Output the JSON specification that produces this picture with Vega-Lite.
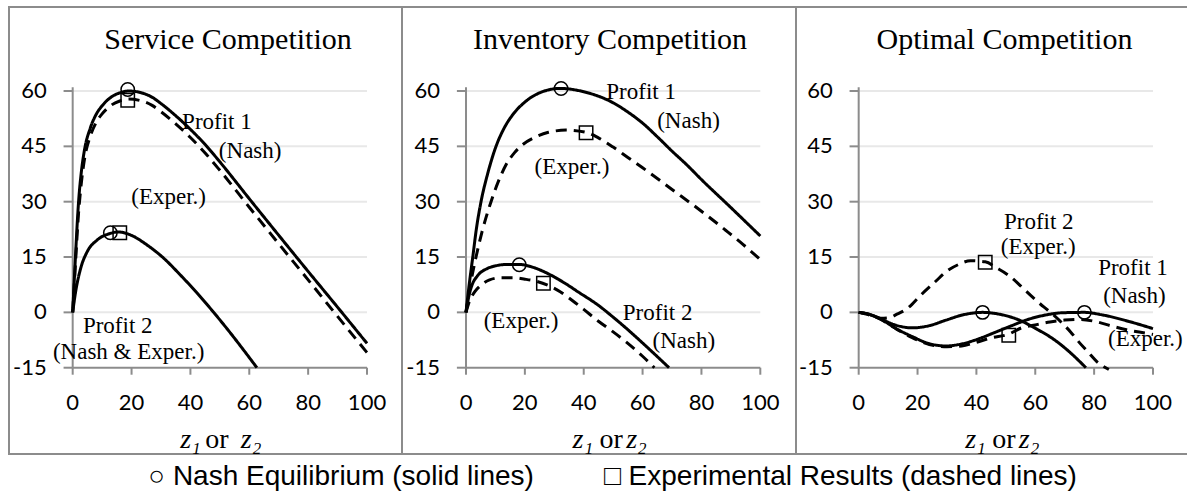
{
  "$schema": "https://vega.github.io/schema/vega-lite/v6.json",
  "background": "white",
  "padding": {"left": 8, "top": 6, "right": 0, "bottom": 0},
  "bounds": "flush",
  "spacing": 0,
  "title": {
    "text": "○ Nash Equilibrium (solid lines)\u00a0\u00a0\u00a0\u00a0\u00a0\u00a0\u00a0\u00a0\u00a0□ Experimental Results (dashed lines)",
    "orient": "bottom", "anchor": "middle", "frame": "bounds", "dx": 14, "offset": 8, "baseline": "top",
    "font": "Liberation Sans", "fontSize": 28, "fontWeight": "normal", "color": "black"
  },
  "datasets": {
    "one": [{}],
    "grid": [{"v": 0}, {"v": 15}, {"v": 30}, {"v": 45}, {"v": 60}],
    "yticks": [{"v": -15}, {"v": 0}, {"v": 15}, {"v": 30}, {"v": 45}, {"v": 60}],
    "xticks": [{"v": 0}, {"v": 20}, {"v": 40}, {"v": 60}, {"v": 80}, {"v": 100}],
    "curves": [
      {"p":"S","s":"P1N","t":"Nash","x":0,"y":0},{"p":"S","s":"P1N","t":"Nash","x":0.5,"y":8},{"p":"S","s":"P1N","t":"Nash","x":1,"y":16},{"p":"S","s":"P1N","t":"Nash","x":2,"y":30},{"p":"S","s":"P1N","t":"Nash","x":3,"y":38.5},{"p":"S","s":"P1N","t":"Nash","x":4,"y":44},{"p":"S","s":"P1N","t":"Nash","x":6,"y":50},{"p":"S","s":"P1N","t":"Nash","x":8,"y":53.7},{"p":"S","s":"P1N","t":"Nash","x":10,"y":56},{"p":"S","s":"P1N","t":"Nash","x":13,"y":58.3},{"p":"S","s":"P1N","t":"Nash","x":16,"y":59.5},{"p":"S","s":"P1N","t":"Nash","x":19,"y":60},{"p":"S","s":"P1N","t":"Nash","x":23,"y":59.6},{"p":"S","s":"P1N","t":"Nash","x":27,"y":58.3},{"p":"S","s":"P1N","t":"Nash","x":30,"y":56.6},{"p":"S","s":"P1N","t":"Nash","x":35,"y":53.3},{"p":"S","s":"P1N","t":"Nash","x":40,"y":49.6},{"p":"S","s":"P1N","t":"Nash","x":45,"y":45.5},{"p":"S","s":"P1N","t":"Nash","x":50,"y":40.8},{"p":"S","s":"P1N","t":"Nash","x":60,"y":30.8},{"p":"S","s":"P1N","t":"Nash","x":70,"y":20.9},{"p":"S","s":"P1N","t":"Nash","x":80,"y":11.1},{"p":"S","s":"P1N","t":"Nash","x":90,"y":1.4},{"p":"S","s":"P1N","t":"Nash","x":100,"y":-8.4},
      {"p":"S","s":"P1E","t":"Exper","x":0,"y":0},{"p":"S","s":"P1E","t":"Exper","x":0.5,"y":7},{"p":"S","s":"P1E","t":"Exper","x":1,"y":14},{"p":"S","s":"P1E","t":"Exper","x":2,"y":27},{"p":"S","s":"P1E","t":"Exper","x":3,"y":35.5},{"p":"S","s":"P1E","t":"Exper","x":4,"y":41.5},{"p":"S","s":"P1E","t":"Exper","x":6,"y":47.8},{"p":"S","s":"P1E","t":"Exper","x":8,"y":51.5},{"p":"S","s":"P1E","t":"Exper","x":10,"y":53.8},{"p":"S","s":"P1E","t":"Exper","x":13,"y":56.1},{"p":"S","s":"P1E","t":"Exper","x":16,"y":57.3},{"p":"S","s":"P1E","t":"Exper","x":19,"y":57.8},{"p":"S","s":"P1E","t":"Exper","x":23,"y":57.4},{"p":"S","s":"P1E","t":"Exper","x":27,"y":56.1},{"p":"S","s":"P1E","t":"Exper","x":30,"y":54.4},{"p":"S","s":"P1E","t":"Exper","x":35,"y":51.1},{"p":"S","s":"P1E","t":"Exper","x":40,"y":47.4},{"p":"S","s":"P1E","t":"Exper","x":45,"y":43.2},{"p":"S","s":"P1E","t":"Exper","x":50,"y":38.5},{"p":"S","s":"P1E","t":"Exper","x":60,"y":28.5},{"p":"S","s":"P1E","t":"Exper","x":70,"y":18.6},{"p":"S","s":"P1E","t":"Exper","x":80,"y":8.8},{"p":"S","s":"P1E","t":"Exper","x":90,"y":-1.1},{"p":"S","s":"P1E","t":"Exper","x":100,"y":-10.9},
      {"p":"S","s":"P2N","t":"Nash","x":0,"y":0},{"p":"S","s":"P2N","t":"Nash","x":1,"y":5.6},{"p":"S","s":"P2N","t":"Nash","x":2.7,"y":11.9},{"p":"S","s":"P2N","t":"Nash","x":4.9,"y":16.4},{"p":"S","s":"P2N","t":"Nash","x":8.3,"y":19.6},{"p":"S","s":"P2N","t":"Nash","x":12.8,"y":21.4},{"p":"S","s":"P2N","t":"Nash","x":15.5,"y":21.8},{"p":"S","s":"P2N","t":"Nash","x":19.6,"y":21},{"p":"S","s":"P2N","t":"Nash","x":25.2,"y":18.3},{"p":"S","s":"P2N","t":"Nash","x":30.9,"y":14.7},{"p":"S","s":"P2N","t":"Nash","x":36.5,"y":10.2},{"p":"S","s":"P2N","t":"Nash","x":42.2,"y":5.3},{"p":"S","s":"P2N","t":"Nash","x":47.9,"y":0},{"p":"S","s":"P2N","t":"Nash","x":53.5,"y":-5.5},{"p":"S","s":"P2N","t":"Nash","x":59.2,"y":-11.4},{"p":"S","s":"P2N","t":"Nash","x":62.6,"y":-15},
      {"p":"I","s":"P1N","t":"Nash","x":0,"y":0},{"p":"I","s":"P1N","t":"Nash","x":1,"y":7},{"p":"I","s":"P1N","t":"Nash","x":2.3,"y":15},{"p":"I","s":"P1N","t":"Nash","x":3.5,"y":22.5},{"p":"I","s":"P1N","t":"Nash","x":5.1,"y":30},{"p":"I","s":"P1N","t":"Nash","x":7.5,"y":38},{"p":"I","s":"P1N","t":"Nash","x":10.2,"y":45},{"p":"I","s":"P1N","t":"Nash","x":13,"y":50},{"p":"I","s":"P1N","t":"Nash","x":16,"y":53.7},{"p":"I","s":"P1N","t":"Nash","x":20,"y":57},{"p":"I","s":"P1N","t":"Nash","x":25,"y":59.5},{"p":"I","s":"P1N","t":"Nash","x":32,"y":60.7},{"p":"I","s":"P1N","t":"Nash","x":40,"y":59.8},{"p":"I","s":"P1N","t":"Nash","x":50,"y":56.8},{"p":"I","s":"P1N","t":"Nash","x":55,"y":54.3},{"p":"I","s":"P1N","t":"Nash","x":60,"y":51.3},{"p":"I","s":"P1N","t":"Nash","x":65,"y":47.6},{"p":"I","s":"P1N","t":"Nash","x":70,"y":43.7},{"p":"I","s":"P1N","t":"Nash","x":75,"y":40},{"p":"I","s":"P1N","t":"Nash","x":80,"y":36},{"p":"I","s":"P1N","t":"Nash","x":90,"y":28.4},{"p":"I","s":"P1N","t":"Nash","x":100,"y":20.7},
      {"p":"I","s":"P1E","t":"Exper","x":0,"y":0},{"p":"I","s":"P1E","t":"Exper","x":1.5,"y":7.5},{"p":"I","s":"P1E","t":"Exper","x":3.4,"y":15},{"p":"I","s":"P1E","t":"Exper","x":5.5,"y":22},{"p":"I","s":"P1E","t":"Exper","x":8.5,"y":30},{"p":"I","s":"P1E","t":"Exper","x":11,"y":35.5},{"p":"I","s":"P1E","t":"Exper","x":13.6,"y":40},{"p":"I","s":"P1E","t":"Exper","x":16.5,"y":43.3},{"p":"I","s":"P1E","t":"Exper","x":19.3,"y":45.5},{"p":"I","s":"P1E","t":"Exper","x":23,"y":47.3},{"p":"I","s":"P1E","t":"Exper","x":28,"y":48.8},{"p":"I","s":"P1E","t":"Exper","x":34,"y":49.4},{"p":"I","s":"P1E","t":"Exper","x":40.8,"y":48.8},{"p":"I","s":"P1E","t":"Exper","x":45,"y":47.3},{"p":"I","s":"P1E","t":"Exper","x":50,"y":44.8},{"p":"I","s":"P1E","t":"Exper","x":55,"y":42},{"p":"I","s":"P1E","t":"Exper","x":60,"y":39.2},{"p":"I","s":"P1E","t":"Exper","x":65,"y":36.3},{"p":"I","s":"P1E","t":"Exper","x":70,"y":33.3},{"p":"I","s":"P1E","t":"Exper","x":76,"y":29.8},{"p":"I","s":"P1E","t":"Exper","x":82,"y":26.2},{"p":"I","s":"P1E","t":"Exper","x":88,"y":22.4},{"p":"I","s":"P1E","t":"Exper","x":94,"y":18.5},{"p":"I","s":"P1E","t":"Exper","x":100,"y":14.3},
      {"p":"I","s":"P2N","t":"Nash","x":0,"y":0},{"p":"I","s":"P2N","t":"Nash","x":1,"y":4.5},{"p":"I","s":"P2N","t":"Nash","x":2,"y":7.3},{"p":"I","s":"P2N","t":"Nash","x":4,"y":10},{"p":"I","s":"P2N","t":"Nash","x":7,"y":11.8},{"p":"I","s":"P2N","t":"Nash","x":10,"y":12.6},{"p":"I","s":"P2N","t":"Nash","x":14,"y":13},{"p":"I","s":"P2N","t":"Nash","x":18,"y":13},{"p":"I","s":"P2N","t":"Nash","x":22,"y":12.4},{"p":"I","s":"P2N","t":"Nash","x":26,"y":11.2},{"p":"I","s":"P2N","t":"Nash","x":30,"y":9.6},{"p":"I","s":"P2N","t":"Nash","x":34,"y":7.7},{"p":"I","s":"P2N","t":"Nash","x":38,"y":5.6},{"p":"I","s":"P2N","t":"Nash","x":45,"y":1.9},{"p":"I","s":"P2N","t":"Nash","x":50,"y":-1.3},{"p":"I","s":"P2N","t":"Nash","x":55,"y":-4.7},{"p":"I","s":"P2N","t":"Nash","x":60,"y":-8.3},{"p":"I","s":"P2N","t":"Nash","x":65,"y":-12},{"p":"I","s":"P2N","t":"Nash","x":69,"y":-15},
      {"p":"I","s":"P2E","t":"Exper","x":0,"y":0},{"p":"I","s":"P2E","t":"Exper","x":1,"y":2.7},{"p":"I","s":"P2E","t":"Exper","x":3,"y":5.6},{"p":"I","s":"P2E","t":"Exper","x":5,"y":7.3},{"p":"I","s":"P2E","t":"Exper","x":8,"y":8.8},{"p":"I","s":"P2E","t":"Exper","x":12,"y":9.4},{"p":"I","s":"P2E","t":"Exper","x":16,"y":9.4},{"p":"I","s":"P2E","t":"Exper","x":20,"y":9},{"p":"I","s":"P2E","t":"Exper","x":24,"y":8.4},{"p":"I","s":"P2E","t":"Exper","x":28,"y":7.3},{"p":"I","s":"P2E","t":"Exper","x":32,"y":5.6},{"p":"I","s":"P2E","t":"Exper","x":36,"y":3.3},{"p":"I","s":"P2E","t":"Exper","x":40,"y":0.8},{"p":"I","s":"P2E","t":"Exper","x":45,"y":-2.4},{"p":"I","s":"P2E","t":"Exper","x":50,"y":-5.3},{"p":"I","s":"P2E","t":"Exper","x":55,"y":-8.4},{"p":"I","s":"P2E","t":"Exper","x":60,"y":-11.9},{"p":"I","s":"P2E","t":"Exper","x":64,"y":-15},
      {"p":"O","s":"P1N","t":"Nash","x":0,"y":0},{"p":"O","s":"P1N","t":"Nash","x":3,"y":-0.4},{"p":"O","s":"P1N","t":"Nash","x":7,"y":-1.6},{"p":"O","s":"P1N","t":"Nash","x":12.7,"y":-4.4},{"p":"O","s":"P1N","t":"Nash","x":18.3,"y":-6.6},{"p":"O","s":"P1N","t":"Nash","x":24,"y":-8.5},{"p":"O","s":"P1N","t":"Nash","x":29.7,"y":-9.1},{"p":"O","s":"P1N","t":"Nash","x":35.3,"y":-8.5},{"p":"O","s":"P1N","t":"Nash","x":41,"y":-7.1},{"p":"O","s":"P1N","t":"Nash","x":46.7,"y":-5.3},{"p":"O","s":"P1N","t":"Nash","x":52.3,"y":-3.5},{"p":"O","s":"P1N","t":"Nash","x":58,"y":-1.8},{"p":"O","s":"P1N","t":"Nash","x":63.6,"y":-0.7},{"p":"O","s":"P1N","t":"Nash","x":69.3,"y":-0.1},{"p":"O","s":"P1N","t":"Nash","x":76.7,"y":0},{"p":"O","s":"P1N","t":"Nash","x":82.9,"y":-0.7},{"p":"O","s":"P1N","t":"Nash","x":92,"y":-2.5},{"p":"O","s":"P1N","t":"Nash","x":100,"y":-4.4},
      {"p":"O","s":"P2N","t":"Nash","x":0,"y":0},{"p":"O","s":"P2N","t":"Nash","x":3,"y":-0.4},{"p":"O","s":"P2N","t":"Nash","x":7,"y":-1.6},{"p":"O","s":"P2N","t":"Nash","x":12.7,"y":-3.5},{"p":"O","s":"P2N","t":"Nash","x":18.3,"y":-4.2},{"p":"O","s":"P2N","t":"Nash","x":24,"y":-3.6},{"p":"O","s":"P2N","t":"Nash","x":29.7,"y":-2.1},{"p":"O","s":"P2N","t":"Nash","x":35.3,"y":-0.7},{"p":"O","s":"P2N","t":"Nash","x":42.1,"y":0},{"p":"O","s":"P2N","t":"Nash","x":47.8,"y":-0.5},{"p":"O","s":"P2N","t":"Nash","x":54.6,"y":-2.1},{"p":"O","s":"P2N","t":"Nash","x":60.2,"y":-4.4},{"p":"O","s":"P2N","t":"Nash","x":65.9,"y":-7.1},{"p":"O","s":"P2N","t":"Nash","x":71.6,"y":-10.7},{"p":"O","s":"P2N","t":"Nash","x":77.2,"y":-15},
      {"p":"O","s":"P2E","t":"Exper","x":0,"y":0},{"p":"O","s":"P2E","t":"Exper","x":4,"y":-0.6},{"p":"O","s":"P2E","t":"Exper","x":7.6,"y":-1.6},{"p":"O","s":"P2E","t":"Exper","x":10,"y":-1.5},{"p":"O","s":"P2E","t":"Exper","x":13,"y":-0.5},{"p":"O","s":"P2E","t":"Exper","x":16.6,"y":1.1},{"p":"O","s":"P2E","t":"Exper","x":21,"y":4.6},{"p":"O","s":"P2E","t":"Exper","x":26,"y":8.3},{"p":"O","s":"P2E","t":"Exper","x":30,"y":11.2},{"p":"O","s":"P2E","t":"Exper","x":34,"y":13},{"p":"O","s":"P2E","t":"Exper","x":38,"y":14},{"p":"O","s":"P2E","t":"Exper","x":43,"y":13.7},{"p":"O","s":"P2E","t":"Exper","x":47,"y":12},{"p":"O","s":"P2E","t":"Exper","x":51,"y":10},{"p":"O","s":"P2E","t":"Exper","x":55,"y":7.2},{"p":"O","s":"P2E","t":"Exper","x":59,"y":4.2},{"p":"O","s":"P2E","t":"Exper","x":63,"y":1.4},{"p":"O","s":"P2E","t":"Exper","x":66,"y":-0.5},{"p":"O","s":"P2E","t":"Exper","x":69,"y":-2.8},{"p":"O","s":"P2E","t":"Exper","x":72,"y":-5.3},{"p":"O","s":"P2E","t":"Exper","x":75,"y":-8.2},{"p":"O","s":"P2E","t":"Exper","x":78,"y":-10.8},{"p":"O","s":"P2E","t":"Exper","x":81,"y":-13.4},{"p":"O","s":"P2E","t":"Exper","x":85,"y":-15.5},
      {"p":"O","s":"P1E","t":"Exper","x":0,"y":0},{"p":"O","s":"P1E","t":"Exper","x":7,"y":-1.7},{"p":"O","s":"P1E","t":"Exper","x":13,"y":-4.6},{"p":"O","s":"P1E","t":"Exper","x":18,"y":-6.8},{"p":"O","s":"P1E","t":"Exper","x":24,"y":-8.7},{"p":"O","s":"P1E","t":"Exper","x":30,"y":-9.3},{"p":"O","s":"P1E","t":"Exper","x":35,"y":-9.1},{"p":"O","s":"P1E","t":"Exper","x":40,"y":-8.1},{"p":"O","s":"P1E","t":"Exper","x":45,"y":-6.9},{"p":"O","s":"P1E","t":"Exper","x":51,"y":-5.9},{"p":"O","s":"P1E","t":"Exper","x":55,"y":-4.3},{"p":"O","s":"P1E","t":"Exper","x":60,"y":-3.4},{"p":"O","s":"P1E","t":"Exper","x":65,"y":-2.6},{"p":"O","s":"P1E","t":"Exper","x":70,"y":-2.1},{"p":"O","s":"P1E","t":"Exper","x":75,"y":-1.9},{"p":"O","s":"P1E","t":"Exper","x":80,"y":-2.4},{"p":"O","s":"P1E","t":"Exper","x":86,"y":-3.7},{"p":"O","s":"P1E","t":"Exper","x":91,"y":-4.7},{"p":"O","s":"P1E","t":"Exper","x":98,"y":-5.7},{"p":"O","s":"P1E","t":"Exper","x":100,"y":-6}
    ],
    "markers": [
      {"p":"S","t":"Nash","x":18.7,"y":60.4},{"p":"S","t":"Exper","x":18.7,"y":57.5},{"p":"S","t":"Nash","x":12.8,"y":21.6},{"p":"S","t":"Exper","x":16,"y":21.6},
      {"p":"I","t":"Nash","x":32.3,"y":60.7},{"p":"I","t":"Exper","x":40.8,"y":48.7},{"p":"I","t":"Nash","x":18.1,"y":12.9},{"p":"I","t":"Exper","x":26.3,"y":7.9},
      {"p":"O","t":"Nash","x":42.1,"y":0},{"p":"O","t":"Nash","x":76.7,"y":0},{"p":"O","t":"Exper","x":43,"y":13.6},{"p":"O","t":"Exper","x":51,"y":-6.2}
    ],
    "labels": [
      {"p":"S","label":"Profit 1","x":49,"y":51.5},{"p":"S","label":"(Nash)","x":60.3,"y":43.8},{"p":"S","label":"(Exper.)","x":32.6,"y":31.4},{"p":"S","label":"Profit 2","x":15.3,"y":-3.7},{"p":"S","label":"(Nash & Exper.)","x":19,"y":-10.7},
      {"p":"I","label":"Profit 1","x":59.5,"y":59.7},{"p":"I","label":"(Nash)","x":75.6,"y":52},{"p":"I","label":"(Exper.)","x":36,"y":39.3},{"p":"I","label":"(Exper.)","x":18.7,"y":-2.4},{"p":"I","label":"Profit 2","x":65.1,"y":-0.1},{"p":"I","label":"(Nash)","x":74,"y":-7.8},
      {"p":"O","label":"Profit 2","x":61.2,"y":24.6},{"p":"O","label":"(Exper.)","x":61,"y":17.7},{"p":"O","label":"Profit 1","x":93.2,"y":12},{"p":"O","label":"(Nash)","x":93.7,"y":4.5},{"p":"O","label":"(Exper.)","x":97.4,"y":-7.1}
    ]
  },
  "hconcat": [
    {
      "width": 393, "height": 447,
      "title": {"text": "Service Competition", "dx": 22.5},
      "layer": [
        {"data": {"name": "grid"}, "mark": {"type": "rule", "color": "#e8e8e8", "strokeWidth": 2},
         "encoding": {"y": {"field": "v", "type": "quantitative", "scale": {"domain": [-38.39, 82.77], "nice": false, "zero": false}, "axis": null},
                      "x": {"datum": 0, "type": "quantitative", "scale": {"domain": [-21.64, 111.89], "nice": false, "zero": false}, "axis": null}, "x2": {"datum": 100}}},
        {"data": {"name": "yticks"}, "mark": {"type": "rule", "color": "#8c8c8c", "strokeWidth": 2},
         "encoding": {"y": {"field": "v", "type": "quantitative", "axis": null}, "x": {"datum": -3.1, "type": "quantitative", "axis": null}, "x2": {"datum": 0}}},
        {"data": {"name": "xticks"}, "mark": {"type": "rule", "color": "#8c8c8c", "strokeWidth": 2},
         "encoding": {"x": {"field": "v", "type": "quantitative", "axis": null}, "y": {"datum": -15, "type": "quantitative", "axis": null}, "y2": {"datum": -16.9}}},
        {"data": {"name": "one"}, "mark": {"type": "rule", "color": "#8c8c8c", "strokeWidth": 2},
         "encoding": {"x": {"datum": 0, "type": "quantitative", "axis": null}, "y": {"datum": -15, "type": "quantitative", "axis": null}, "y2": {"datum": 61}}},
        {"data": {"name": "one"}, "mark": {"type": "rule", "color": "#8c8c8c", "strokeWidth": 2},
         "encoding": {"y": {"datum": -15, "type": "quantitative", "axis": null}, "x": {"datum": 0, "type": "quantitative", "axis": null}, "x2": {"datum": 100}}},
        {"data": {"name": "yticks"}, "mark": {"type": "text", "font": "Lato", "fontSize": 22, "color": "black", "align": "right", "baseline": "middle", "dx": -26},
         "encoding": {"y": {"field": "v", "type": "quantitative", "axis": null}, "x": {"datum": 0, "type": "quantitative", "axis": null}, "text": {"field": "v", "type": "nominal"}}},
        {"data": {"name": "xticks"}, "mark": {"type": "text", "font": "Lato", "fontSize": 22, "color": "black", "align": "center", "baseline": "middle", "dy": 35},
         "encoding": {"x": {"field": "v", "type": "quantitative", "axis": null}, "y": {"datum": -15, "type": "quantitative", "axis": null}, "text": {"field": "v", "type": "nominal"}}},
        {"data": {"name": "one"}, "mark": {"type": "text", "font": "Liberation Serif", "fontSize": 28, "fontStyle": "italic", "color": "black", "align": "right", "baseline": "middle", "dy": 72, "dx": -19},
         "encoding": {"x": {"datum": 50, "type": "quantitative", "axis": null}, "y": {"datum": -15, "type": "quantitative", "axis": null}, "text": {"value": "z₁"}}},
        {"data": {"name": "one"}, "mark": {"type": "text", "font": "Liberation Serif", "fontSize": 28, "color": "black", "align": "center", "baseline": "middle", "dy": 72, "dx": -3},
         "encoding": {"x": {"datum": 50, "type": "quantitative", "axis": null}, "y": {"datum": -15, "type": "quantitative", "axis": null}, "text": {"value": "or"}}},
        {"data": {"name": "one"}, "mark": {"type": "text", "font": "Liberation Serif", "fontSize": 28, "fontStyle": "italic", "color": "black", "align": "left", "baseline": "middle", "dy": 72, "dx": 21},
         "encoding": {"x": {"datum": 50, "type": "quantitative", "axis": null}, "y": {"datum": -15, "type": "quantitative", "axis": null}, "text": {"value": "z₂"}}},
        {"data": {"name": "curves"}, "transform": [{"filter": "datum.p === 'S'"}],
         "mark": {"type": "line", "interpolate": "monotone", "strokeWidth": 3, "color": "black", "strokeCap": "butt"},
         "encoding": {
           "x": {"field": "x", "type": "quantitative", "axis": null},
           "y": {"field": "y", "type": "quantitative", "axis": null},
           "detail": {"field": "s"},
           "strokeDash": {"field": "t", "type": "nominal", "scale": {"domain": ["Nash", "Exper"], "range": [[1, 0], [11, 7]]}, "legend": null}
         }},
        {"data": {"name": "markers"}, "transform": [{"filter": "datum.p === 'S'"}],
         "mark": {"type": "point", "filled": false, "size": 180, "strokeWidth": 1.5, "color": "black", "opacity": 1},
         "encoding": {"x": {"field": "x", "type": "quantitative", "axis": null}, "y": {"field": "y", "type": "quantitative", "axis": null},
                      "shape": {"field": "t", "type": "nominal", "scale": {"domain": ["Nash", "Exper"], "range": ["circle", "square"]}, "legend": null}}},
        {"data": {"name": "labels"}, "transform": [{"filter": "datum.p === 'S'"}],
         "mark": {"type": "text", "font": "Liberation Serif", "fontSize": 23, "color": "black", "align": "center", "baseline": "middle"},
         "encoding": {"x": {"field": "x", "type": "quantitative", "axis": null}, "y": {"field": "y", "type": "quantitative", "axis": null}, "text": {"field": "label"}}}
      ]
    },
    {
      "width": 394, "height": 447,
      "title": {"text": "Inventory Competition", "dx": 11},
      "layer": [
        {"data": {"name": "grid"}, "mark": {"type": "rule", "color": "#e8e8e8", "strokeWidth": 2},
         "encoding": {"y": {"field": "v", "type": "quantitative", "scale": {"domain": [-38.39, 82.77], "nice": false, "zero": false}, "axis": null},
                      "x": {"datum": 0, "type": "quantitative", "scale": {"domain": [-21.75, 112.13], "nice": false, "zero": false}, "axis": null}, "x2": {"datum": 100}}},
        {"data": {"name": "yticks"}, "mark": {"type": "rule", "color": "#8c8c8c", "strokeWidth": 2},
         "encoding": {"y": {"field": "v", "type": "quantitative", "axis": null}, "x": {"datum": -3.1, "type": "quantitative", "axis": null}, "x2": {"datum": 0}}},
        {"data": {"name": "xticks"}, "mark": {"type": "rule", "color": "#8c8c8c", "strokeWidth": 2},
         "encoding": {"x": {"field": "v", "type": "quantitative", "axis": null}, "y": {"datum": -15, "type": "quantitative", "axis": null}, "y2": {"datum": -16.9}}},
        {"data": {"name": "one"}, "mark": {"type": "rule", "color": "#8c8c8c", "strokeWidth": 2},
         "encoding": {"x": {"datum": 0, "type": "quantitative", "axis": null}, "y": {"datum": -15, "type": "quantitative", "axis": null}, "y2": {"datum": 61}}},
        {"data": {"name": "one"}, "mark": {"type": "rule", "color": "#8c8c8c", "strokeWidth": 2},
         "encoding": {"y": {"datum": -15, "type": "quantitative", "axis": null}, "x": {"datum": 0, "type": "quantitative", "axis": null}, "x2": {"datum": 100}}},
        {"data": {"name": "yticks"}, "mark": {"type": "text", "font": "Lato", "fontSize": 22, "color": "black", "align": "right", "baseline": "middle", "dx": -26},
         "encoding": {"y": {"field": "v", "type": "quantitative", "axis": null}, "x": {"datum": 0, "type": "quantitative", "axis": null}, "text": {"field": "v", "type": "nominal"}}},
        {"data": {"name": "xticks"}, "mark": {"type": "text", "font": "Lato", "fontSize": 22, "color": "black", "align": "center", "baseline": "middle", "dy": 35},
         "encoding": {"x": {"field": "v", "type": "quantitative", "axis": null}, "y": {"datum": -15, "type": "quantitative", "axis": null}, "text": {"field": "v", "type": "nominal"}}},
        {"data": {"name": "one"}, "mark": {"type": "text", "font": "Liberation Serif", "fontSize": 28, "fontStyle": "italic", "color": "black", "align": "right", "baseline": "middle", "dy": 72, "dx": -20},
         "encoding": {"x": {"datum": 50, "type": "quantitative", "axis": null}, "y": {"datum": -15, "type": "quantitative", "axis": null}, "text": {"value": "z₁"}}},
        {"data": {"name": "one"}, "mark": {"type": "text", "font": "Liberation Serif", "fontSize": 28, "color": "black", "align": "center", "baseline": "middle", "dy": 72, "dx": -2},
         "encoding": {"x": {"datum": 50, "type": "quantitative", "axis": null}, "y": {"datum": -15, "type": "quantitative", "axis": null}, "text": {"value": "or"}}},
        {"data": {"name": "one"}, "mark": {"type": "text", "font": "Liberation Serif", "fontSize": 28, "fontStyle": "italic", "color": "black", "align": "left", "baseline": "middle", "dy": 72, "dx": 13},
         "encoding": {"x": {"datum": 50, "type": "quantitative", "axis": null}, "y": {"datum": -15, "type": "quantitative", "axis": null}, "text": {"value": "z₂"}}},
        {"data": {"name": "curves"}, "transform": [{"filter": "datum.p === 'I'"}],
         "mark": {"type": "line", "interpolate": "monotone", "strokeWidth": 3, "color": "black", "strokeCap": "butt"},
         "encoding": {
           "x": {"field": "x", "type": "quantitative", "axis": null},
           "y": {"field": "y", "type": "quantitative", "axis": null},
           "detail": {"field": "s"},
           "strokeDash": {"field": "t", "type": "nominal", "scale": {"domain": ["Nash", "Exper"], "range": [[1, 0], [11, 7]]}, "legend": null}
         }},
        {"data": {"name": "markers"}, "transform": [{"filter": "datum.p === 'I'"}],
         "mark": {"type": "point", "filled": false, "size": 180, "strokeWidth": 1.5, "color": "black", "opacity": 1},
         "encoding": {"x": {"field": "x", "type": "quantitative", "axis": null}, "y": {"field": "y", "type": "quantitative", "axis": null},
                      "shape": {"field": "t", "type": "nominal", "scale": {"domain": ["Nash", "Exper"], "range": ["circle", "square"]}, "legend": null}}},
        {"data": {"name": "labels"}, "transform": [{"filter": "datum.p === 'I'"}],
         "mark": {"type": "text", "font": "Liberation Serif", "fontSize": 23, "color": "black", "align": "center", "baseline": "middle"},
         "encoding": {"x": {"field": "x", "type": "quantitative", "axis": null}, "y": {"field": "y", "type": "quantitative", "axis": null}, "text": {"field": "label"}}}
      ]
    },
    {
      "width": 392, "height": 447,
      "title": {"text": "Optimal Competition", "dx": 12.5},
      "layer": [
        {"data": {"name": "grid"}, "mark": {"type": "rule", "color": "#e8e8e8", "strokeWidth": 2},
         "encoding": {"y": {"field": "v", "type": "quantitative", "scale": {"domain": [-38.39, 82.77], "nice": false, "zero": false}, "axis": null},
                      "x": {"datum": 0, "type": "quantitative", "scale": {"domain": [-21.3, 111.9], "nice": false, "zero": false}, "axis": null}, "x2": {"datum": 100}}},
        {"data": {"name": "yticks"}, "mark": {"type": "rule", "color": "#8c8c8c", "strokeWidth": 2},
         "encoding": {"y": {"field": "v", "type": "quantitative", "axis": null}, "x": {"datum": -3.1, "type": "quantitative", "axis": null}, "x2": {"datum": 0}}},
        {"data": {"name": "xticks"}, "mark": {"type": "rule", "color": "#8c8c8c", "strokeWidth": 2},
         "encoding": {"x": {"field": "v", "type": "quantitative", "axis": null}, "y": {"datum": -15, "type": "quantitative", "axis": null}, "y2": {"datum": -16.9}}},
        {"data": {"name": "one"}, "mark": {"type": "rule", "color": "#8c8c8c", "strokeWidth": 2},
         "encoding": {"x": {"datum": 0, "type": "quantitative", "axis": null}, "y": {"datum": -15, "type": "quantitative", "axis": null}, "y2": {"datum": 61}}},
        {"data": {"name": "one"}, "mark": {"type": "rule", "color": "#8c8c8c", "strokeWidth": 2},
         "encoding": {"y": {"datum": -15, "type": "quantitative", "axis": null}, "x": {"datum": 0, "type": "quantitative", "axis": null}, "x2": {"datum": 100}}},
        {"data": {"name": "yticks"}, "mark": {"type": "text", "font": "Lato", "fontSize": 22, "color": "black", "align": "right", "baseline": "middle", "dx": -26},
         "encoding": {"y": {"field": "v", "type": "quantitative", "axis": null}, "x": {"datum": 0, "type": "quantitative", "axis": null}, "text": {"field": "v", "type": "nominal"}}},
        {"data": {"name": "xticks"}, "mark": {"type": "text", "font": "Lato", "fontSize": 22, "color": "black", "align": "center", "baseline": "middle", "dy": 35},
         "encoding": {"x": {"field": "v", "type": "quantitative", "axis": null}, "y": {"datum": -15, "type": "quantitative", "axis": null}, "text": {"field": "v", "type": "nominal"}}},
        {"data": {"name": "one"}, "mark": {"type": "text", "font": "Liberation Serif", "fontSize": 28, "fontStyle": "italic", "color": "black", "align": "right", "baseline": "middle", "dy": 72, "dx": -20},
         "encoding": {"x": {"datum": 50, "type": "quantitative", "axis": null}, "y": {"datum": -15, "type": "quantitative", "axis": null}, "text": {"value": "z₁"}}},
        {"data": {"name": "one"}, "mark": {"type": "text", "font": "Liberation Serif", "fontSize": 28, "color": "black", "align": "center", "baseline": "middle", "dy": 72, "dx": -2},
         "encoding": {"x": {"datum": 50, "type": "quantitative", "axis": null}, "y": {"datum": -15, "type": "quantitative", "axis": null}, "text": {"value": "or"}}},
        {"data": {"name": "one"}, "mark": {"type": "text", "font": "Liberation Serif", "fontSize": 28, "fontStyle": "italic", "color": "black", "align": "left", "baseline": "middle", "dy": 72, "dx": 13},
         "encoding": {"x": {"datum": 50, "type": "quantitative", "axis": null}, "y": {"datum": -15, "type": "quantitative", "axis": null}, "text": {"value": "z₂"}}},
        {"data": {"name": "curves"}, "transform": [{"filter": "datum.p === 'O'"}],
         "mark": {"type": "line", "interpolate": "monotone", "strokeWidth": 3, "color": "black", "strokeCap": "butt"},
         "encoding": {
           "x": {"field": "x", "type": "quantitative", "axis": null},
           "y": {"field": "y", "type": "quantitative", "axis": null},
           "detail": {"field": "s"},
           "strokeDash": {"field": "t", "type": "nominal", "scale": {"domain": ["Nash", "Exper"], "range": [[1, 0], [11, 7]]}, "legend": null}
         }},
        {"data": {"name": "markers"}, "transform": [{"filter": "datum.p === 'O'"}],
         "mark": {"type": "point", "filled": false, "size": 180, "strokeWidth": 1.5, "color": "black", "opacity": 1},
         "encoding": {"x": {"field": "x", "type": "quantitative", "axis": null}, "y": {"field": "y", "type": "quantitative", "axis": null},
                      "shape": {"field": "t", "type": "nominal", "scale": {"domain": ["Nash", "Exper"], "range": ["circle", "square"]}, "legend": null}}},
        {"data": {"name": "labels"}, "transform": [{"filter": "datum.p === 'O'"}],
         "mark": {"type": "text", "font": "Liberation Serif", "fontSize": 23, "color": "black", "align": "center", "baseline": "middle"},
         "encoding": {"x": {"field": "x", "type": "quantitative", "axis": null}, "y": {"field": "y", "type": "quantitative", "axis": null}, "text": {"field": "label"}}}
      ]
    }
  ],
  "config": {
    "view": {"stroke": "#8c8c8c", "strokeWidth": 2},
    "title": {"font": "Liberation Serif", "fontSize": 30, "fontWeight": "normal", "color": "black", "anchor": "middle", "frame": "group", "offset": -48, "baseline": "alphabetic"}
  }
}
